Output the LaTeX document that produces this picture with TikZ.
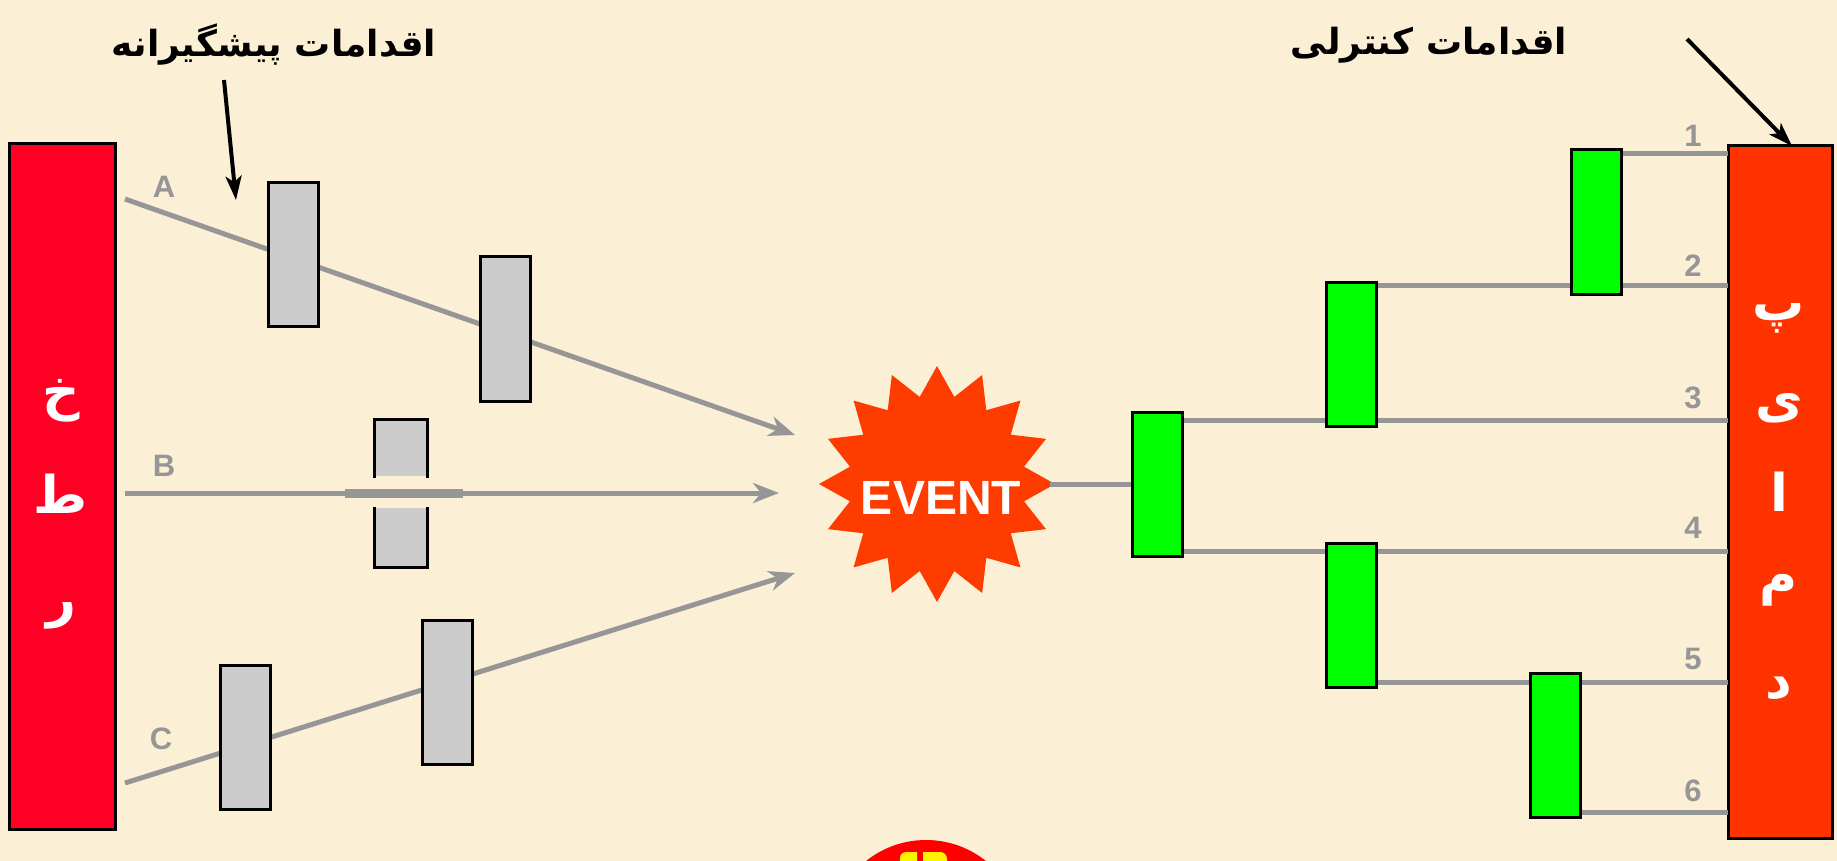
\documentclass[tikz,border=0pt]{standalone}
\usepackage{fontspec}
\setmainfont{Liberation Sans}
\newfontfamily\fa[Script=Arabic]{DejaVu Sans}
\TeXXeTstate=1
\usetikzlibrary{shapes.geometric,arrows.meta}
\definecolor{bg}{RGB}{251,240,214}
\definecolor{linegray}{RGB}{150,150,150}
\definecolor{boxgray}{RGB}{204,204,204}
\definecolor{riskred}{RGB}{255,0,36}
\definecolor{consred}{RGB}{255,51,0}
\definecolor{starred}{RGB}{255,60,0}
\definecolor{boxgreen}{RGB}{0,255,0}
\tikzset{
  conn/.style={draw=linegray, line width=5pt},
  connarrow/.style={conn, -{Stealth[length=26pt,width=20pt,inset=8pt]}},
  blackarrow/.style={draw=black, line width=4pt, -{Stealth[length=24pt,width=16pt,inset=6pt]}},
  greybox/.style={draw=black, line width=3pt, fill=boxgray, minimum width=50pt, minimum height=144pt, inner sep=0pt},
  greenbox/.style={draw=black, line width=3pt, fill=boxgreen, minimum width=50pt, minimum height=144pt, inner sep=0pt},
  bigbar/.style={draw=black, line width=3pt, inner sep=0pt},
  barletter/.style={text=white, font=\fa\bfseries\fontsize{52}{56}\selectfont, inner sep=0pt},
  title/.style={text=black, font=\fa\bfseries\fontsize{36}{42}\selectfont, inner sep=0pt},
  lbl/.style={text=linegray, font=\bfseries\fontsize{31}{34}\selectfont, inner sep=0pt},
}
\begin{document}
\begin{tikzpicture}[x=1pt,y=-1pt]
\useasboundingbox (0,0) rectangle (1837,861);
\clip (0,0) rectangle (1837,861);
\fill[bg] (0,0) rectangle (1837,861);

% side bars
\node[bigbar, fill=riskred, minimum width=106pt, minimum height=685pt] (risk) at (62,486.5) {};
\node[bigbar, fill=consred, minimum width=104pt, minimum height=692pt] (cons) at (1780,492) {};

% event star
\node[star, star points=16, star point ratio=1.33, fill=starred, minimum size=236pt, inner sep=0pt] (event) at (937,484) {};
\node[text=white, font=\bfseries\fontsize{48}{50}\selectfont, inner sep=0pt] (evtxt) at (941,498) {EVENT};

% left connectors
\coordinate (a0) at (125,199);
\coordinate (a1) at (795,435);
\coordinate (b0) at (125,493);
\coordinate (b1) at (779,493);
\coordinate (c0) at (125,783);
\coordinate (c1) at (795,573);
\draw[connarrow] (a0) -- (a1);
\draw[connarrow] (b0) -- (b1);
\draw[connarrow] (c0) -- (c1);

% right side coordinates on consequence bar
\coordinate (r1) at (1728,154);
\coordinate (r2) at (1728,285);
\coordinate (r3) at (1728,420);
\coordinate (r4) at (1728,551);
\coordinate (r5) at (1728,682);
\coordinate (r6) at (1728,812);
\coordinate (e0) at (1050,484);

% green box positions
\coordinate (g1c) at (1157,484);
\coordinate (g2c) at (1351.5,354);
\coordinate (g3c) at (1351.5,615);
\coordinate (g4c) at (1596.5,222);
\coordinate (g5c) at (1555.5,745.5);
\path (g1c) node[greenbox] (g1) {} (g2c) node[greenbox] (g2) {} (g3c) node[greenbox] (g3) {}
      (g4c) node[greenbox] (g4) {} (g5c) node[greenbox] (g5) {};

% connectors on the right
\draw[conn] (e0) -- (g1.west);
\draw[conn] (g1.east |- r3) -- (r3);
\draw[conn] (g1.east |- r4) -- (r4);
\draw[conn] (g2.east |- r2) -- (r2);
\draw[conn] (g3.east |- r5) -- (r5);
\draw[conn] (g4.east |- r1) -- (r1);
\draw[conn] (g5.east |- r6) -- (r6);

% boxes on top of lines
\node[greenbox] at (g1c) {};
\node[greenbox] at (g2c) {};
\node[greenbox] at (g3c) {};
\node[greenbox] at (g4c) {};
\node[greenbox] at (g5c) {};

% grey barrier boxes
\node[greybox] (ga1) at (293,254.5) {};
\node[greybox] (ga2) at (505,329) {};
\node[greybox] (gc1) at (245.5,737.5) {};
\node[greybox] (gc2) at (447.5,692.5) {};
% broken barrier on B
\fill[boxgray] (374,419) rectangle (427,476);
\fill[boxgray] (374,508) rectangle (427,567);
\draw[line width=3pt, line cap=rect] (374,476) -- (374,419) -- (427,419) -- (427,476);
\draw[line width=3pt, line cap=rect] (374,508) -- (374,567) -- (427,567) -- (427,508);
\coordinate (bb0) at (345,493);
\coordinate (bb1) at (463,493);
\draw[draw=linegray, line width=9pt] (bb0) -- (bb1);

% labels
\node[lbl] (la) at (164,187) {A};
\node[lbl] (lb) at (164,466) {B};
\node[lbl] (lc) at (161,739) {C};
\node[lbl] (n1) at (1693,136) {1};
\node[lbl] (n2) at (1693,266) {2};
\node[lbl] (n3) at (1693,398) {3};
\node[lbl] (n4) at (1693,528) {4};
\node[lbl] (n5) at (1693,659) {5};
\node[lbl] (n6) at (1693,791) {6};

% bar letters
\node[barletter] (k1) at (61,401) {\beginR خ\endR};
\node[barletter] (k2) at (61,494) {\beginR ط\endR};
\node[barletter] (k3) at (61,616) {\beginR ر\endR};
\node[barletter] (p1) at (1779,318) {\beginR پ\endR};
\node[barletter] (p2) at (1779,408) {\beginR ی\endR};
\node[barletter] (p3) at (1779,492) {\beginR ا\endR};
\node[barletter] (p4) at (1779,590) {\beginR م\endR};
\node[barletter] (p5) at (1779,688) {\beginR د\endR};

% titles and pointer arrows
\node[title] (t1) at (274,45) {\beginR اقدامات پیشگیرانه\endR};
\node[title] (t2) at (1429,45) {\beginR اقدامات کنترلی\endR};
\coordinate (p1s) at (224,80);
\coordinate (p1e) at (236,200);
\coordinate (p2s) at (1687,39);
\coordinate (p2e) at (1792,146);
\draw[blackarrow] (p1s) -- (p1e);
\draw[blackarrow] (p2s) -- (p2e);

% partial logo at bottom
\fill[red] (926,936) circle (96);
\fill[yellow] (900,861) -- (900,858) .. controls (900,854) and (903,852) .. (907,852) -- (917,852) -- (917,861) -- cycle;
\fill[yellow] (923,861) -- (923,852) -- (940,852) .. controls (944,852) and (947,855) .. (947,859) -- (947,861) -- cycle;
\end{tikzpicture}
\end{document}
